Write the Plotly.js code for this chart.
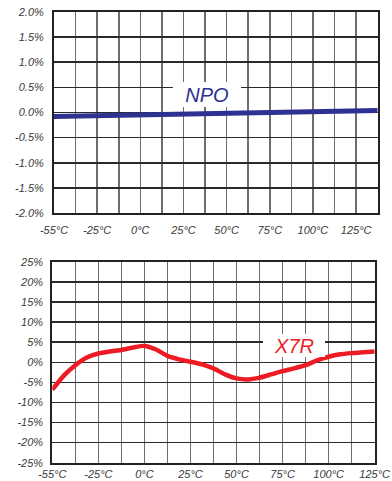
<!DOCTYPE html>
<html>
<head>
<meta charset="utf-8">
<script src="https://cdn.plot.ly/plotly-3.0.1.min.js"></script>
<style>html,body{margin:0;padding:0;background:#fff;}#chart{width:392px;height:481px;}</style>
</head>
<body>
<div id="chart"></div>
<script>
// ---- data ----
// x values are in column units of the chart grid (one column per grid cell)
const tempLabels = ['-55°C', '-25°C', '0°C', '25°C', '50°C', '75°C', '100°C', '125°C'];
const tempLabelCols = [0, 2, 4, 6, 8, 10, 12, 14];

const npoYTickVals = [-2, -1.5, -1, -0.5, 0, 0.5, 1, 1.5, 2];
const npoYTickText = ['-2.0%', '-1.5%', '-1.0%', '-0.5%', '0.0%', '0.5%', '1.0%', '1.5%', '2.0%'];
const npoX = [0, 3, 6, 9, 12, 15];
const npoY = [-0.08, -0.06, -0.035, -0.01, 0.015, 0.04];

const x7rYTickVals = [-25, -20, -15, -10, -5, 0, 5, 10, 15, 20, 25];
const x7rYTickText = ['-25%', '-20%', '-15%', '-10%', '-5%', '0%', '5%', '10%', '15%', '20%', '25%'];
const x7rX = [0, 0.5, 1, 1.5, 2, 2.5, 3, 3.5, 4, 4.5, 5, 5.5, 6, 6.5, 7, 7.5, 8, 8.5, 9, 9.5, 10, 10.5, 11, 11.5, 12, 12.5, 13, 13.5, 14];
const x7rY = [-6.8, -3.3, -0.7, 1.2, 2.2, 2.7, 3.1, 3.7, 4.1, 3.2, 1.6, 0.75, 0.15, -0.5, -1.5, -3.0, -4.0, -4.25, -3.8, -3.0, -2.2, -1.5, -0.7, 0.5, 1.4, 2.0, 2.3, 2.5, 2.7];

// ---- helpers ----
const W = 392, H = 481;
const px = v => v / W;
const py = v => 1 - v / H;

function colTicks(n) {
  const vals = [], text = [];
  for (let i = 0; i <= n; i++) {
    vals.push(i);
    const k = tempLabelCols.indexOf(i);
    text.push(k >= 0 ? tempLabels[k] : '');
  }
  return {vals, text};
}
const topCols = colTicks(15);
const botCols = colTicks(14);

const tickFont = {family: '"Liberation Sans", Arial, sans-serif', size: 11, color: '#3a3a3a', style: 'italic'};

const xCommon = {
  showgrid: true, gridcolor: '#6e6e6e', gridwidth: 1.6,
  showline: true, linecolor: '#222', linewidth: 2, mirror: true,
  zeroline: false, ticks: '', tickfont: tickFont, tickmode: 'array',
  fixedrange: true, automargin: false
};
const yCommon = {
  showgrid: true, gridcolor: '#2a2a2a', gridwidth: 1.6,
  showline: true, linecolor: '#222', linewidth: 2, mirror: true,
  zeroline: false, ticks: '', tickfont: tickFont, tickmode: 'array',
  fixedrange: true, automargin: false
};

const data = [
  {x: npoX, y: npoY, xaxis: 'x', yaxis: 'y', type: 'scatter', mode: 'lines',
   line: {color: '#2e3192', width: 5}, hoverinfo: 'skip'},
  {x: x7rX, y: x7rY, xaxis: 'x2', yaxis: 'y2', type: 'scatter', mode: 'lines',
   line: {color: '#ed1c24', width: 4.5, shape: 'spline', smoothing: 0.6}, hoverinfo: 'skip'}
];

const labelFont = c => ({family: '"Liberation Sans", Arial, sans-serif', size: 20, color: c, style: 'italic'});

const layout = {
  width: W, height: H,
  margin: {l: 0, r: 0, t: 0, b: 0},
  paper_bgcolor: '#fff', plot_bgcolor: '#fff',
  showlegend: false,
  xaxis: Object.assign({}, xCommon, {
    domain: [px(54), px(377.7)], anchor: 'y', range: [0, 15],
    tickvals: topCols.vals, ticktext: topCols.text, ticklabelstandoff: 6
  }),
  yaxis: Object.assign({}, yCommon, {
    domain: [py(213), py(12)], anchor: 'x', range: [-2, 2],
    tickvals: npoYTickVals, ticktext: npoYTickText, ticklabelstandoff: 6
  }),
  xaxis2: Object.assign({}, xCommon, {
    domain: [px(52.3), px(374.7)], anchor: 'y2', range: [0, 14],
    tickvals: botCols.vals, ticktext: botCols.text, ticklabelstandoff: 0
  }),
  yaxis2: Object.assign({}, yCommon, {
    domain: [py(462.7), py(262)], anchor: 'x2', range: [-25, 25],
    tickvals: x7rYTickVals, ticktext: x7rYTickText, ticklabelstandoff: 5
  }),
  annotations: [
    {text: 'NPO', xref: 'paper', yref: 'paper', x: px(207), y: py(94.5), xanchor: 'center', yanchor: 'middle',
     width: 68, height: 25, bgcolor: '#ffffff', borderpad: 0, borderwidth: 0,
     showarrow: false, font: labelFont('#2e3192')},
    {text: 'X7R', xref: 'paper', yref: 'paper', x: px(294), y: py(345), xanchor: 'center', yanchor: 'middle',
     width: 62, height: 23, bgcolor: '#ffffff', borderpad: 0, borderwidth: 0,
     showarrow: false, font: labelFont('#ed1c24')}
  ]
};

Plotly.newPlot('chart', data, layout, {staticPlot: true, displayModeBar: false});
</script>
</body>
</html>
